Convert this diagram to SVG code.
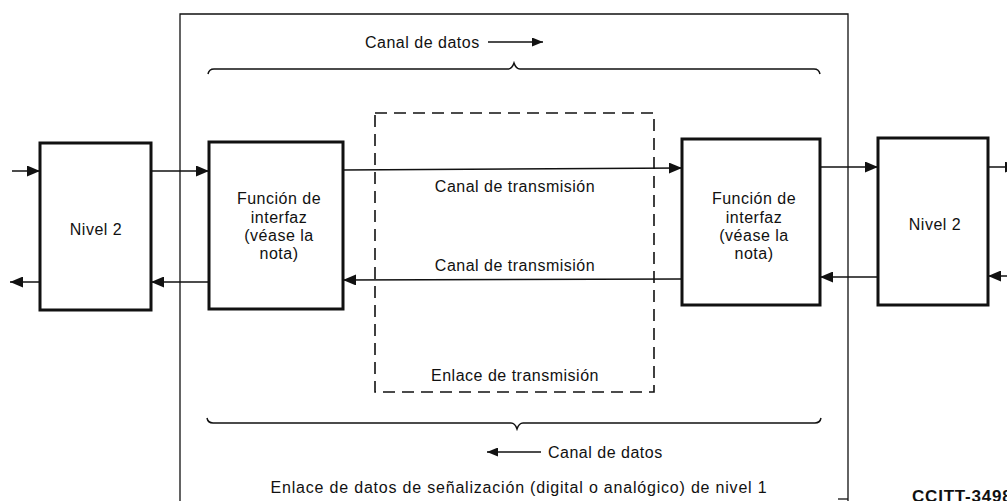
<svg xmlns="http://www.w3.org/2000/svg" width="1007" height="501" viewBox="0 0 1007 501">
<style>
text{font-family:"Liberation Sans",Arial,sans-serif;font-size:16px;fill:#111;letter-spacing:0.5px}
.box{fill:#fff;stroke:#111;stroke-width:3}
.c{text-anchor:middle}
.ln{fill:none;stroke:#111;stroke-width:1.5}
.fr{fill:none;stroke:#111;stroke-width:1.3}
.dash{fill:none;stroke:#111;stroke-width:1.6;stroke-dasharray:12 7}
</style>
<defs>
<marker id="ah" markerWidth="13" markerHeight="11" refX="13" refY="5.5" orient="auto" markerUnits="userSpaceOnUse"><path d="M0,0 L13,5.5 L0,11 z" fill="#111"/></marker>
<marker id="as" markerWidth="11" markerHeight="9" refX="11" refY="4.5" orient="auto" markerUnits="userSpaceOnUse"><path d="M0,0 L11,4.5 L0,9 z" fill="#111"/></marker>
</defs>

<g id="frame">
<path class="fr" d="M180,505 L180,14 L848,14 L848,505"/>
<path class="fr" d="M838,499 L848,499"/>
</g>

<g id="braces">
<path class="ln" d="M208,74 Q209,69 214,69 L508,69 Q512,69 514,63 Q516,69 520,69 L814,69 Q819,69 820,74"/>
<path class="ln" d="M207,418 Q208,423 213,423 L511,423 Q515,423 517,429 Q519,423 523,423 L815,423 Q820,423 821,418"/>
</g>

<g id="link">
<rect class="dash" x="375" y="113" width="279" height="279"/>
<text class="c" x="515" y="381">Enlace de transmisión</text>
</g>

<g id="connectors">
<line class="ln" x1="12" y1="171" x2="40" y2="171" marker-end="url(#ah)"/>
<line class="ln" x1="151" y1="171" x2="209" y2="171" marker-end="url(#ah)"/>
<line class="ln" x1="209" y1="282" x2="151" y2="282" marker-end="url(#ah)"/>
<line class="ln" x1="40" y1="282" x2="10" y2="282" marker-end="url(#ah)"/>
<line class="ln" x1="343" y1="170" x2="682" y2="168" marker-end="url(#ah)"/>
<line class="ln" x1="682" y1="279" x2="343" y2="280" marker-end="url(#ah)"/>
<line class="ln" x1="820" y1="167" x2="878" y2="167" marker-end="url(#ah)"/>
<line class="ln" x1="878" y1="277" x2="820" y2="277" marker-end="url(#ah)"/>
<line class="ln" x1="988" y1="167" x2="1018" y2="167" marker-end="url(#ah)"/>
<line class="ln" x1="1010" y1="276" x2="988" y2="276" marker-end="url(#ah)"/>
<line class="ln" x1="488" y1="42" x2="543" y2="42" marker-end="url(#as)"/>
<line class="ln" x1="541" y1="452" x2="487" y2="452" marker-end="url(#as)"/>
</g>

<g id="labels">
<text x="365" y="48">Canal de datos</text>
<text x="548" y="458">Canal de datos</text>
<text class="c" x="515" y="192">Canal de transmisión</text>
<text class="c" x="515" y="271">Canal de transmisión</text>
<text class="c" x="519" y="493" style="letter-spacing:0.8px">Enlace de datos de señalización (digital o analógico) de nivel 1</text>
<text x="912" y="502" style="font-weight:bold;font-size:17px;letter-spacing:0.8px">CCITT-34980</text>
</g>

<g id="nivel2-left">
<rect class="box" x="40" y="143" width="111" height="167"/>
<text class="c" x="96" y="235">Nivel 2</text>
</g>

<g id="interfaz-left">
<rect class="box" x="209" y="142" width="134" height="167"/>
<text class="c" x="279" y="204">Función de</text>
<text class="c" x="279" y="222.5">interfaz</text>
<text class="c" x="279" y="241">(véase la</text>
<text class="c" x="279" y="259">nota)</text>
</g>

<g id="interfaz-right">
<rect class="box" x="682" y="139" width="138" height="166"/>
<text class="c" x="754" y="204">Función de</text>
<text class="c" x="754" y="222.5">interfaz</text>
<text class="c" x="754" y="241">(véase la</text>
<text class="c" x="754" y="259">nota)</text>
</g>

<g id="nivel2-right">
<rect class="box" x="878" y="138" width="110" height="167"/>
<text class="c" x="935" y="230">Nivel 2</text>
</g>
</svg>
